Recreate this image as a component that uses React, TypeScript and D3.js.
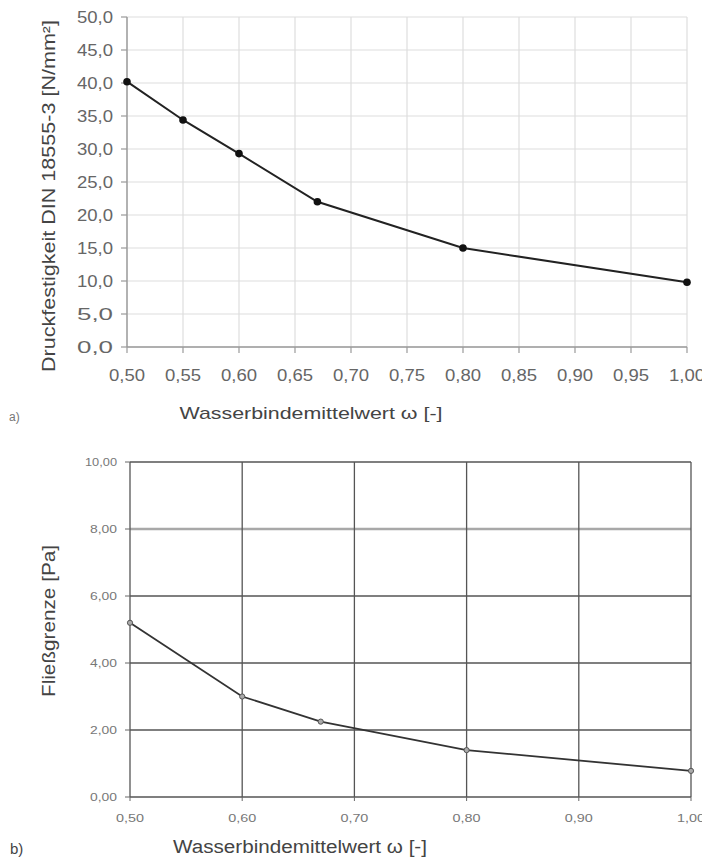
import React from "react";
import * as d3 from "d3";

// ---- Data (chart a) ----
const wbA = [0.5, 0.55, 0.6, 0.67, 0.8, 1.0];
const strengthA = [40.2, 34.4, 29.3, 22.0, 15.0, 9.8];
const xTicksA = [0.5, 0.55, 0.6, 0.65, 0.7, 0.75, 0.8, 0.85, 0.9, 0.95, 1.0];
const yTicksA = [0, 5, 10, 15, 20, 25, 30, 35, 40, 45, 50];

// ---- Data (chart b) ----
const wbB = [0.5, 0.6, 0.67, 0.8, 1.0];
const yieldB = [5.2, 3.0, 2.25, 1.4, 0.78];
const xTicksB = [0.5, 0.6, 0.7, 0.8, 0.9, 1.0];
const yTicksB = [0, 2, 4, 6, 8, 10];

const titleXA = "Wasserbindemittelwert ω [-]";
const titleYA = "Druckfestigkeit DIN 18555-3 [N/mm²]";
const titleXB = "Wasserbindemittelwert ω [-]";
const titleYB = "Fließgrenze [Pa]";

const FONT = "'Liberation Sans', Arial, Helvetica, sans-serif";
const comma = (f: (n: number) => string) => (v: number) => f(v).replace(".", ",");
const f1 = comma(d3.format(".1f"));
const f2 = comma(d3.format(".2f"));

export default function App() {
  // chart a scales
  const xA = d3.scaleLinear().domain([0.5, 1.0]).range([127, 687]);
  const yA = d3.scaleLinear().domain([0, 50]).range([347, 17]);
  const lineA = d3
    .line<number>()
    .x((_, i) => xA(wbA[i]))
    .y((d) => yA(d));

  // chart b scales
  const xB = d3.scaleLinear().domain([0.5, 1.0]).range([130, 691]);
  const yB = d3.scaleLinear().domain([0, 10]).range([797, 462]);
  const lineB = d3
    .line<number>()
    .x((_, i) => xB(wbB[i]))
    .y((d) => yB(d));

  return (
    <svg
      width={702}
      height={857}
      style={{ position: "absolute", left: 0, top: 0, background: "#fff" }}
      fontFamily={FONT}
    >
      <rect x={0} y={0} width={702} height={857} fill="#fff" />

      {/* ===== Chart a ===== */}
      <g>
        {yTicksA.map((t) => (
          <line key={"gya" + t} x1={xA(0.5)} x2={xA(1.0)} y1={yA(t)} y2={yA(t)} stroke="#dedede" strokeWidth={1.2} />
        ))}
        {xTicksA.map((t) => (
          <line key={"gxa" + t} x1={xA(t)} x2={xA(t)} y1={yA(0)} y2={yA(50)} stroke="#dedede" strokeWidth={1.2} />
        ))}
        <line x1={xA(0.5)} x2={xA(0.5)} y1={yA(0)} y2={yA(50)} stroke="#9a9a9a" strokeWidth={1.4} />
        <line x1={xA(0.5)} x2={xA(1.0)} y1={yA(0)} y2={yA(0)} stroke="#9a9a9a" strokeWidth={1.4} />
        {yTicksA.map((t) => (
          <g key={"tya" + t}>
            <line x1={xA(0.5) - 6} x2={xA(0.5)} y1={yA(t)} y2={yA(t)} stroke="#9a9a9a" strokeWidth={1.2} />
            <text x={113} y={yA(t)} dy="0.36em" textAnchor="end" fontSize={16} fill="#666" textLength={36} lengthAdjust="spacingAndGlyphs">
              {f1(t)}
            </text>
          </g>
        ))}
        {xTicksA.map((t) => (
          <g key={"txa" + t}>
            <line x1={xA(t)} x2={xA(t)} y1={yA(0)} y2={yA(0) + 6} stroke="#9a9a9a" strokeWidth={1.2} />
            <text x={xA(t)} y={381} textAnchor="middle" fontSize={16} fill="#666" textLength={36} lengthAdjust="spacingAndGlyphs">
              {f2(t)}
            </text>
          </g>
        ))}
        <path d={lineA(strengthA) || ""} fill="none" stroke="#222" strokeWidth={2} />
        {strengthA.map((v, i) => (
          <circle key={"ma" + i} cx={xA(wbA[i])} cy={yA(v)} r={3.8} fill="#111" />
        ))}
        <text x={311} y={419} textAnchor="middle" fontSize={17} fill="#444" textLength={263} lengthAdjust="spacingAndGlyphs">
          {titleXA}
        </text>
        <text transform={`translate(55,196) rotate(-90)`} textAnchor="middle" fontSize={18} fill="#444" textLength={352} lengthAdjust="spacingAndGlyphs">
          {titleYA}
        </text>
        <text x={9} y={421} fontSize={12} fill="#777">a)</text>
      </g>

      {/* ===== Chart b ===== */}
      <g>
        {yTicksB.map((t) => (
          <line
            key={"gyb" + t}
            x1={xB(0.5)}
            x2={xB(1.0)}
            y1={yB(t)}
            y2={yB(t)}
            stroke={t === 8 ? "#a8a8a8" : "#555"}
            strokeWidth={t === 8 ? 2.6 : 1.3}
          />
        ))}
        {xTicksB.map((t) => (
          <line key={"gxb" + t} x1={xB(t)} x2={xB(t)} y1={yB(0)} y2={yB(10)} stroke="#555" strokeWidth={1.3} />
        ))}
        {yTicksB.map((t) => (
          <g key={"tyb" + t}>
            <line x1={xB(0.5) - 5} x2={xB(0.5)} y1={yB(t)} y2={yB(t)} stroke="#666" strokeWidth={1} />
            <text x={117} y={yB(t)} dy="0.35em" textAnchor="end" fontSize={11} fill="#777" textLength={t === 10 ? 32 : 27} lengthAdjust="spacingAndGlyphs">
              {f2(t)}
            </text>
          </g>
        ))}
        {xTicksB.map((t) => (
          <g key={"txb" + t}>
            <line x1={xB(t)} x2={xB(t)} y1={yB(0)} y2={yB(0) + 4} stroke="#666" strokeWidth={1} />
            <text x={xB(t)} y={822} textAnchor="middle" fontSize={11} fill="#777" textLength={28} lengthAdjust="spacingAndGlyphs">
              {f2(t)}
            </text>
          </g>
        ))}
        <path d={lineB(yieldB) || ""} fill="none" stroke="#333" strokeWidth={1.8} />
        {yieldB.map((v, i) => (
          <circle key={"mb" + i} cx={xB(wbB[i])} cy={yB(v)} r={2.6} fill="#aaa" stroke="#555" strokeWidth={1} />
        ))}
        <text x={300} y={853} textAnchor="middle" fontSize={18} fill="#444" textLength={254} lengthAdjust="spacingAndGlyphs">
          {titleXB}
        </text>
        <text transform={`translate(55,621) rotate(-90)`} textAnchor="middle" fontSize={18} fill="#444" textLength={152} lengthAdjust="spacingAndGlyphs">
          {titleYB}
        </text>
        <text x={10} y={854} fontSize={15} fill="#444">b)</text>
      </g>
    </svg>
  );
}
